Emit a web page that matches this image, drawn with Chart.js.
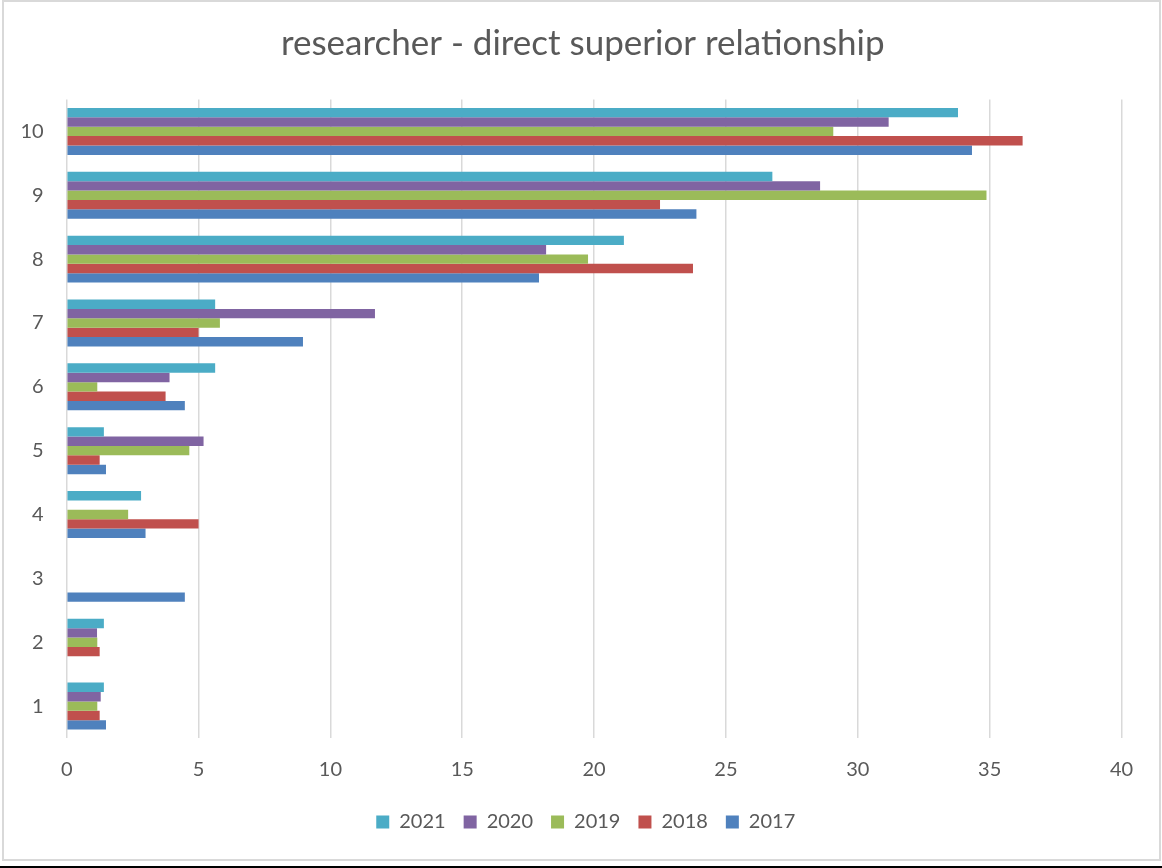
<!DOCTYPE html>
<html>
<head>
<meta charset="utf-8">
<title>researcher - direct superior relationship</title>
<script src="https://cdn.jsdelivr.net/npm/chart.js@4/dist/chart.umd.min.js"></script>
<style>
  html, body { margin: 0; padding: 0; background: #ffffff; }
  #wrap { position: relative; width: 1162px; height: 868px; }
  canvas { display: block; }
</style>
</head>
<body>
<div id="wrap"><canvas id="chart" width="1162" height="868"></canvas></div>
<script>
// Rating categories (bottom to top) and share of answers per year, in percent
const categories = ['1', '2', '3', '4', '5', '6', '7', '8', '9', '10'];
const years = ['2021', '2020', '2019', '2018', '2017'];

const values2017 = [1.49, 0, 4.48, 2.99, 1.49, 4.48, 8.96, 17.91, 23.88, 34.33];
const values2018 = [1.25, 1.25, 0, 5.0, 1.25, 3.75, 5.0, 23.75, 22.5, 36.25];
const values2019 = [1.16, 1.16, 0, 2.33, 4.65, 1.16, 5.81, 19.77, 34.88, 29.07];
const values2020 = [1.29, 1.15, 0, 0, 5.19, 3.9, 11.69, 18.18, 28.57, 31.17];
const values2021 = [1.41, 1.41, 0, 2.82, 1.41, 5.63, 5.63, 21.13, 26.76, 33.8];

const xTicks = [0, 5, 10, 15, 20, 25, 30, 35, 40];

const seriesColors = {
  '2017': '#4F81BD',
  '2018': '#C0504D',
  '2019': '#9BBB59',
  '2020': '#8064A2',
  '2021': '#4BACC6'
};
const seriesValues = {
  '2017': values2017,
  '2018': values2018,
  '2019': values2019,
  '2020': values2020,
  '2021': values2021
};

const textColor = '#595959';
const fontFamily = 'Lato, "Open Sans", "Liberation Sans", sans-serif';

// Frame around the chart area plus the dark rule at the very bottom
const framePlugin = {
  id: 'frame',
  beforeDraw(chart) {
    const ctx = chart.ctx;
    ctx.save();
    ctx.fillStyle = '#ffffff';
    ctx.fillRect(0, 0, chart.width, chart.height);
    ctx.strokeStyle = '#d9d9d9';
    ctx.lineWidth = 2;
    ctx.strokeRect(3, 1, chart.width - 5, 859);
    ctx.fillStyle = '#000000';
    ctx.fillRect(0, 866, chart.width, 2);
    ctx.restore();
  }
};

// Center title and legend on the whole canvas rather than on the padded box
const centerPlugin = {
  id: 'centerBlocks',
  afterLayout(chart) {
    const shift = (box, dx) => {
      if (!box) return;
      box.left += dx;
      box.right += dx;
    };
    shift(chart.titleBlock, 22);
    shift(chart.legend, 25);
  }
};

const datasets = years.map(y => ({
  label: y,
  data: seriesValues[y],
  backgroundColor: seriesColors[y],
  borderWidth: 0,
  categoryPercentage: 0.735,
  barPercentage: 1.0
}));

new Chart(document.getElementById('chart'), {
  type: 'bar',
  data: { labels: categories, datasets },
  plugins: [framePlugin, centerPlugin],
  options: {
    indexAxis: 'y',
    responsive: false,
    animation: false,
    devicePixelRatio: 1,
    layout: { padding: { top: 0, left: 0, right: 40.5, bottom: 26 } },
    scales: {
      x: {
        type: 'linear',
        min: 0,
        max: 40,
        afterBuildTicks(scale) {
          scale.ticks = xTicks.map(v => ({ value: v }));
        },
        afterFit(scale) { scale.height = 56; },
        grid: {
          color: '#d9d9d9',
          lineWidth: 1.5,
          drawTicks: false
        },
        border: { display: false },
        ticks: {
          color: textColor,
          padding: 19.5,
          font: { family: fontFamily, size: 20 }
        }
      },
      y: {
        reverse: true,
        afterFit(scale) { scale.width = 66.7; },
        grid: { display: false, drawTicks: false },
        border: { display: false },
        ticks: {
          color: textColor,
          padding: 23,
          font: { family: fontFamily, size: 20 }
        }
      }
    },
    plugins: {
      title: {
        display: true,
        text: 'researcher - direct superior relationship',
        color: textColor,
        font: { family: fontFamily, size: 35, weight: 'normal' },
        padding: { top: 23, bottom: 34.5 }
      },
      legend: {
        display: true,
        position: 'bottom',
        labels: {
          color: textColor,
          boxWidth: 13,
          boxHeight: 13,
          padding: 18,
          font: { family: fontFamily, size: 20 }
        }
      },
      tooltip: { enabled: false }
    }
  }
});
</script>
</body>
</html>
